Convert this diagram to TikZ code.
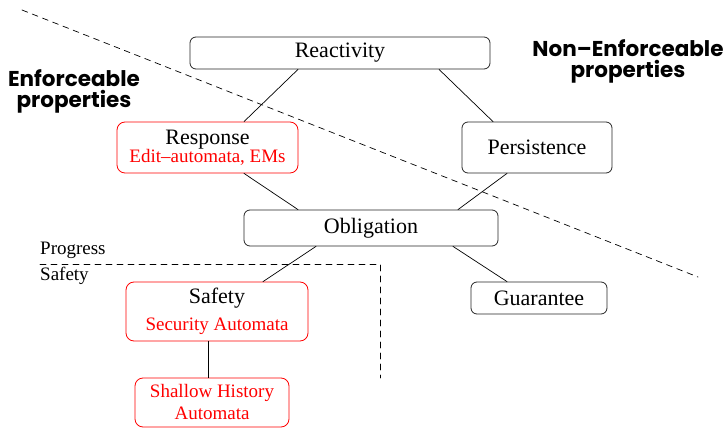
\documentclass[tikz,border=0pt]{standalone}
\usepackage{fontspec}
\setmainfont{Liberation Serif}
\newfontfamily\headfont{Poppins}
\newcommand\enfby[1]{{\fontsize{19}{21}\selectfont\color{red}#1}}
\begin{document}
\begin{tikzpicture}[x=1pt, y=-1pt, line join=round, line cap=round,
    font=\fontsize{22}{24}\selectfont,
    prop/.style={draw=black!85, rounded corners=6pt, line width=0.8pt, inner sep=0pt, align=center},
    enf/.style={prop, draw=red, rounded corners=8pt},
    small/.style={font=\fontsize{19}{21}\selectfont},
    head/.style={font=\headfont\bfseries\fontsize{21.5}{21}\selectfont, align=center}]
    \useasboundingbox (0,0) rectangle (723,430);
    % the classes
    \node[prop, minimum width=300pt, minimum height=32pt] (react) at (340,53) {Reactivity};
    \node[enf, minimum width=181pt, minimum height=51pt] (resp) at (207.5,147.5) {Response\\[-6pt]\enfby{Edit–automata, EMs}};
    \node[prop, minimum width=150pt, minimum height=51pt] (pers) at (537,147.5) {Persistence};
    \node[prop, minimum width=254pt, minimum height=36pt] (obl) at (371,228) {Obligation};
    \node[prop, minimum width=136pt, minimum height=32pt] (guar) at (539,298) {Guarantee};
    \node[enf, minimum width=182pt, minimum height=59pt] (safe) at (217,311.5) {Safety\\[3pt]\enfby{Security Automata}};
    \node[enf, small, text=red, minimum width=154pt, minimum height=49pt] (hist) at (212,402.5) {Shallow History\\[1pt]Automata};
    % hierarchy
    \begin{scope}[line width=0.7pt]
    \draw ([xshift=-42pt]react.south) -- ([xshift=36.5pt]resp.north);
    \draw ([xshift=99pt]react.south) -- ([xshift=-44pt]pers.north);
    \draw ([xshift=36.5pt]resp.south) -- ([xshift=-73pt]obl.north);
    \draw ([xshift=-30pt]pers.south) -- ([xshift=87pt]obl.north);
    \draw ([xshift=-55pt]obl.south) -- ([xshift=46pt]safe.north);
    \draw ([xshift=82pt]obl.south) -- ([xshift=-32pt]guar.north);
    \draw ([xshift=-9pt]safe.south) -- ([xshift=-4pt]hist.north);
    \end{scope}
    % borders
    \draw[dashed, dash pattern=on 6pt off 5pt, line width=0.7pt] (22,10) -- (698,277);
    \draw[dashed, dash pattern=on 6pt off 5pt, line width=0.7pt] (40,264) -| (380,378);
    \node[small, anchor=base west, inner sep=0pt] (prog) at (40,255) {Progress};
    \node[small, anchor=base west, inner sep=0pt] (saf) at (40,281) {Safety};
    \node[head] (enfl) at (74,91) {Enforceable\\properties};
    \node[head] (nenfl) at (628,61) {Non–Enforceable\\properties};
\end{tikzpicture}
\end{document}
